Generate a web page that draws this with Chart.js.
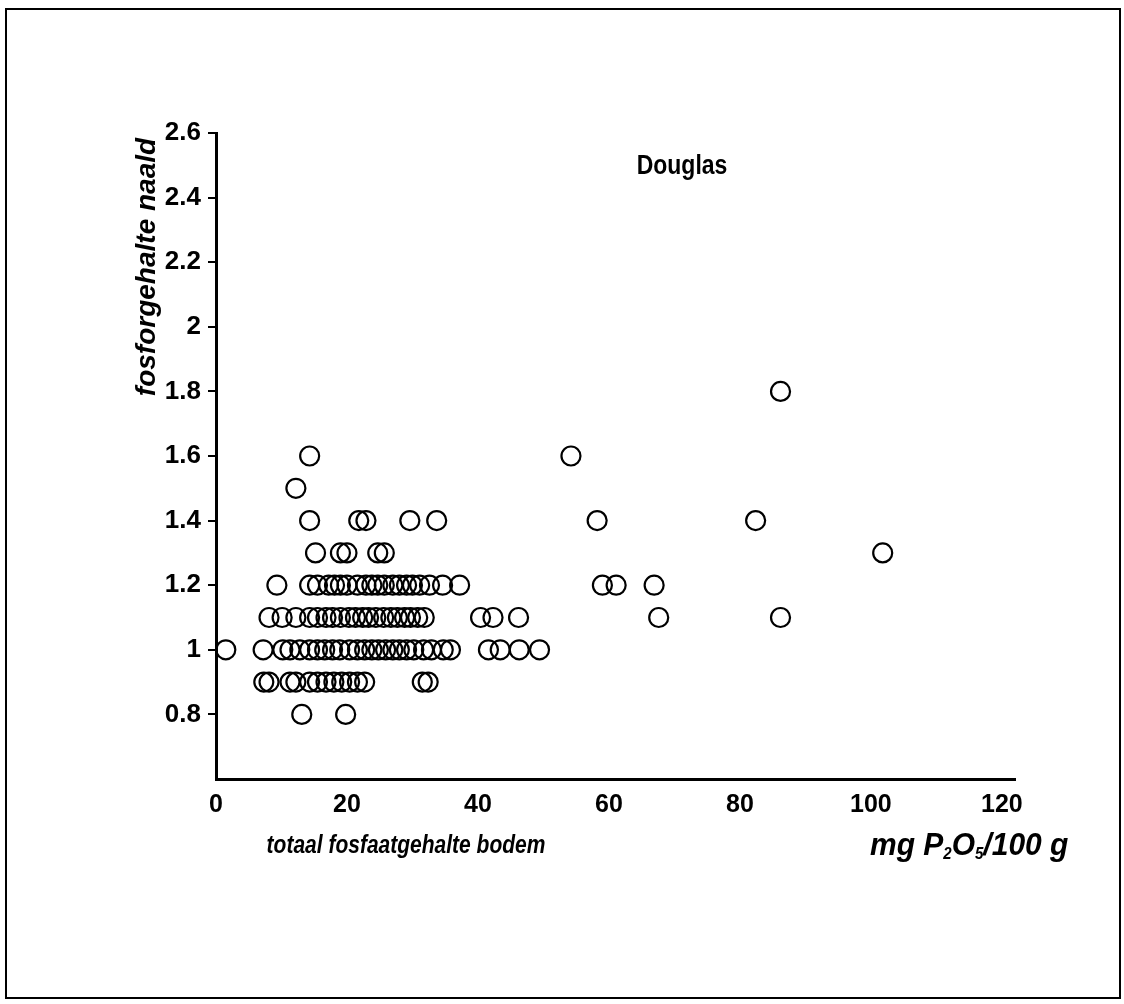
<!DOCTYPE html>
<html>
<head>
<meta charset="utf-8">
<script src="https://cdn.jsdelivr.net/npm/chart.js@4.4.1/dist/chart.umd.min.js"></script>
<style>
  html, body { margin: 0; padding: 0; background: #fff; }
  #wrap { position: relative; width: 1124px; height: 1004px; }
</style>
</head>
<body>
<div id="wrap"><canvas id="douglasChart" width="1124" height="1004"></canvas></div>
<script>
// 1) Data: needle P level (y) and soil P values (x) on each level
const needleLevels = [0.8, 0.9, 1.0, 1.1, 1.2, 1.3, 1.4, 1.5, 1.6, 1.8];

const soil08 = [13.1, 19.8];
const soil09 = [7.3, 8.1, 11.3, 12.2, 14.3, 15.5, 16.8, 18.0, 19.2, 20.4, 21.6, 22.7, 31.5, 32.4];
const soil10 = [1.5, 7.2, 10.2, 11.3, 12.8, 14.3, 15.5, 16.6, 17.8, 18.9, 20.4, 21.6, 22.7, 23.8,
  24.8, 25.9, 27.0, 28.0, 29.1, 30.2, 31.7, 32.9, 34.7, 35.8, 41.6, 43.4, 46.3, 49.4];
const soil11 = [8.1, 10.1, 12.2, 14.3, 15.5, 16.8, 17.8, 19.0, 20.3, 21.3, 22.4, 23.3, 24.4, 25.6,
  26.7, 27.7, 28.8, 29.7, 30.8, 31.8, 40.4, 42.3, 46.2, 67.6, 86.2];
const soil12 = [9.3, 14.3, 15.5, 17.2, 18.1, 19.0, 20.0, 21.6, 22.9, 23.8, 24.7, 25.7, 27.0, 28.0,
  29.1, 30.0, 31.1, 32.6, 34.6, 37.2, 59.0, 61.1, 66.9];
const soil13 = [15.2, 19.0, 20.0, 24.7, 25.7, 101.8];
const soil14 = [14.3, 21.8, 22.9, 29.6, 33.7, 58.2, 82.4];
const soil15 = [12.2];
const soil16 = [14.3, 54.2];
const soil18 = [86.2];

const soilRows = [soil08, soil09, soil10, soil11, soil12, soil13, soil14, soil15, soil16, soil18];

const xTicks = [0, 20, 40, 60, 80, 100, 120];
const yTicks = [0.8, 1.0, 1.2, 1.4, 1.6, 1.8, 2.0, 2.2, 2.4, 2.6];

(() => {
  const FONT = "'Liberation Sans', Arial, Helvetica, sans-serif";

  // build {x, y} points from the rows
  const points = [];
  soilRows.forEach((row, i) => {
    row.forEach((x) => points.push({ x, y: needleLevels[i] }));
  });

  function fmtTick(v) {
    // 1.0 and 2.0 show as "1" and "2" on the scan
    return Number(v.toFixed(1)).toString();
  }

  // the scan is a bit stretched vertically, so texts get a y-scale
  function stretchedText(ctx, txt, x, y, font, sy) {
    ctx.save();
    ctx.translate(x, y);
    ctx.scale(1, sy);
    ctx.font = font;
    ctx.fillText(txt, 0, 0);
    ctx.restore();
  }

  // 2) Texts and frame that sit outside the chart area
  const decorPlugin = {
    id: "decor",
    beforeDraw(chart) {
      const ctx = chart.ctx;
      ctx.save();
      ctx.fillStyle = "#fff";
      ctx.fillRect(0, 0, chart.width, chart.height);
      ctx.strokeStyle = "#000";
      ctx.lineWidth = 2;
      ctx.strokeRect(6, 9, 1114, 989);
      ctx.restore();
    },
    afterDraw(chart) {
      const ctx = chart.ctx;
      ctx.save();
      ctx.fillStyle = "#000";
      ctx.textBaseline = "middle";

      // series label
      ctx.textAlign = "center";
      stretchedText(ctx, "Douglas", 682, 166, "bold 23px " + FONT, 1.2);

      // x title
      stretchedText(ctx, "totaal fosfaatgehalte bodem", 406, 846, "italic bold 21px " + FONT, 1.25);

      // unit with subscripts
      ctx.textAlign = "left";
      let x = 870;
      const part = (txt, size, dy) => {
        const f = "italic bold " + size + "px " + FONT;
        stretchedText(ctx, txt, x, 846 + dy, f, 1.05);
        ctx.font = f;
        x += ctx.measureText(txt).width;
      };
      part("mg P", 30, 0);
      part("2", 15, 9);
      part("O", 30, 0);
      part("5", 15, 9);
      part("/100 g", 30, 0);

      // y title, rotated
      ctx.translate(147, 267);
      ctx.rotate(-Math.PI / 2);
      ctx.textAlign = "center";
      ctx.font = "italic bold 28px " + FONT;
      ctx.fillText("fosforgehalte naald", 0, 0);
      ctx.restore();
    },
  };

  // 3) Chart
  const canvas = document.getElementById("douglasChart");
  new Chart(canvas.getContext("2d"), {
    type: "scatter",
    data: {
      datasets: [
        {
          label: "Douglas",
          data: points,
          pointStyle: "circle",
          pointRadius: 9.5,
          pointBorderWidth: 2.2,
          pointBorderColor: "#000",
          pointBackgroundColor: "rgba(0,0,0,0)",
          pointHoverRadius: 9.5,
        },
      ],
    },
    options: {
      responsive: false,
      animation: false,
      events: [],
      layout: { padding: { left: 0, top: 133, right: 109, bottom: 0 } },
      plugins: {
        legend: { display: false },
        tooltip: { enabled: false },
        title: { display: false },
      },
      scales: {
        x: {
          type: "linear",
          min: 0,
          max: 122,
          afterBuildTicks(scale) {
            scale.ticks = xTicks.map((v) => ({ value: v }));
          },
          afterFit(scale) {
            scale.height = 1004 - 779;
          },
          grid: { display: false, drawTicks: false },
          border: { display: true, color: "#000", width: 3 },
          ticks: {
            color: "#000",
            padding: 11,
            maxRotation: 0,
            font: { family: FONT, size: 25, weight: "bold" },
            callback: (v) => fmtTick(v),
          },
        },
        y: {
          type: "linear",
          min: 0.6,
          max: 2.6,
          afterBuildTicks(scale) {
            scale.ticks = yTicks.map((v) => ({ value: v }));
          },
          afterFit(scale) {
            scale.width = 216;
          },
          grid: {
            display: true,
            drawOnChartArea: false,
            drawTicks: true,
            tickLength: 8,
            color: "#000",
            lineWidth: 2,
          },
          border: { display: true, color: "#000", width: 3 },
          ticks: {
            color: "#000",
            padding: 7,
            font: { family: FONT, size: 26, weight: "bold" },
            callback: (v) => fmtTick(v),
          },
        },
      },
    },
    plugins: [decorPlugin],
  });
})();
</script>
</body>
</html>
